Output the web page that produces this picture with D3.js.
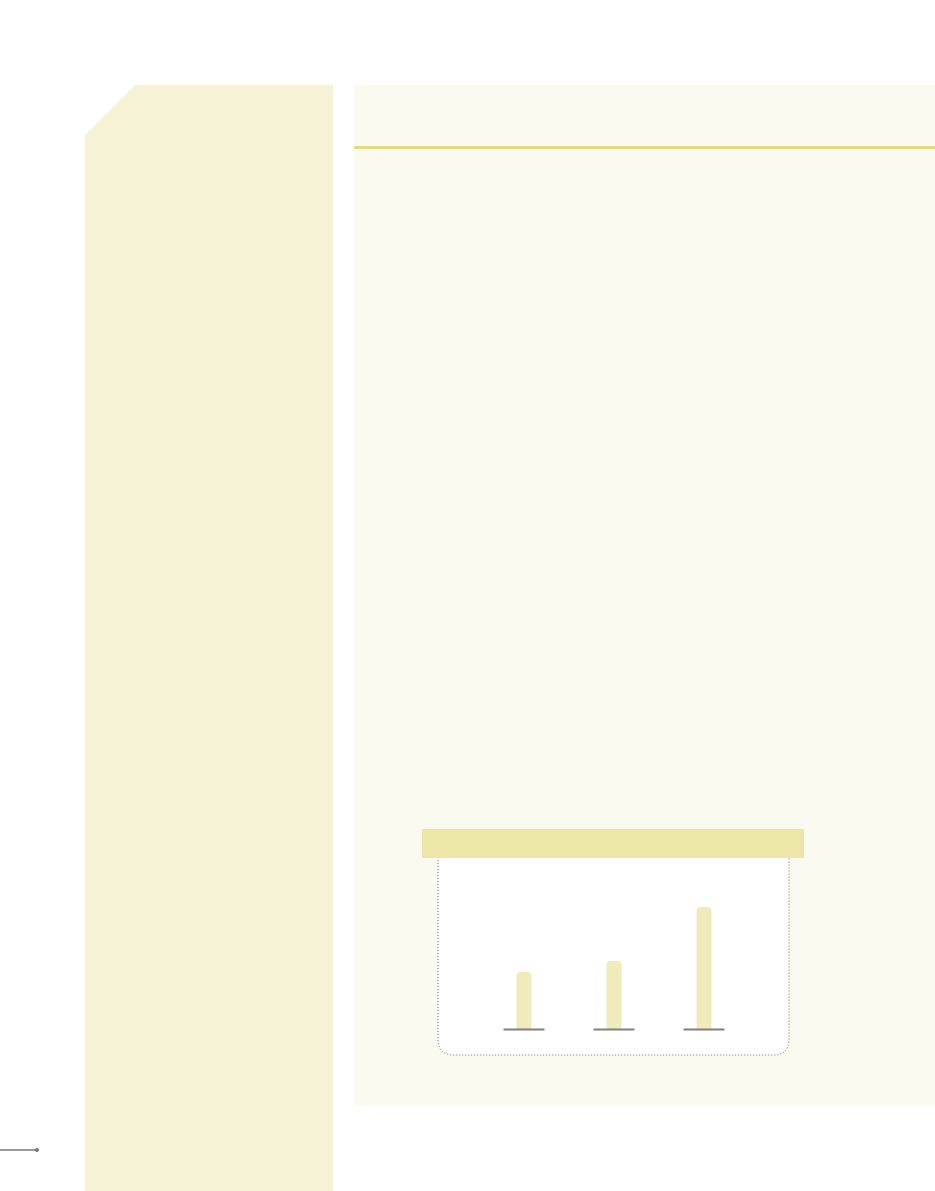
<!DOCTYPE html>
<html>
<head>
<meta charset="utf-8">
<style>
  body { margin: 0; background: #ffffff; }
  svg { display: block; }
</style>
</head>
<body>
<script src="https://d3js.org/d3.v7.min.js"></script>
<script>
  // chart data (no labels are printed in the original)
  var categories = ['A', 'B', 'C'];
  var values = [57, 68, 122];

  var width = 935, height = 1191;

  const svg = d3.select('body').append('svg')
    .attr('width', width)
    .attr('height', height);

  // left side panel with the cut corner
  svg.append('path')
    .attr('d', 'M135,85 L333,85 L333,1191 L85,1191 L85,135 Z')
    .attr('fill', '#f6f2d6');

  // main panel
  svg.append('rect')
    .attr('x', 354).attr('y', 85)
    .attr('width', width - 354).attr('height', 1105 - 85)
    .attr('fill', '#fafaf0');

  svg.append('rect')
    .attr('x', 354).attr('y', 146)
    .attr('width', width - 354).attr('height', 3)
    .attr('fill', '#e4db7c');

  // little pointer line bottom-left
  svg.append('line')
    .attr('x1', 0).attr('x2', 37)
    .attr('y1', 1150).attr('y2', 1150)
    .attr('stroke', '#777').attr('stroke-width', 1.5);
  svg.append('circle')
    .attr('cx', 37).attr('cy', 1150).attr('r', 2)
    .attr('fill', '#777');

  // chart box
  var box = { left: 438, right: 789, top: 857, bottom: 1055, r: 16 };
  svg.append('path')
    .attr('d', 'M' + box.left + ',' + box.top +
      ' L' + box.left + ',' + (box.bottom - box.r) +
      ' Q' + box.left + ',' + box.bottom + ' ' + (box.left + box.r) + ',' + box.bottom +
      ' L' + (box.right - box.r) + ',' + box.bottom +
      ' Q' + box.right + ',' + box.bottom + ' ' + box.right + ',' + (box.bottom - box.r) +
      ' L' + box.right + ',' + box.top)
    .attr('fill', '#ffffff')
    .attr('stroke', '#6f6f6f')
    .attr('stroke-width', 1)
    .attr('stroke-dasharray', '1,2');

  svg.append('rect')
    .attr('x', 422).attr('y', 829)
    .attr('width', 804 - 422).attr('height', 29)
    .attr('fill', '#ede6a6');

  var xScale = d3.scaleBand()
    .domain(categories)
    .range([479, 749]);

  var yScale = d3.scaleLinear()
    .domain([0, 150])
    .range([1029, 879]);

  var barW = 15, rr = 4;

  var g = svg.append('g');

  g.selectAll('path.bar')
    .data(values)
    .join('path')
      .attr('class', 'bar')
      .attr('fill', '#f0ebbb')
      .attr('d', function(d, i) {
        var cx = xScale(categories[i]) + xScale.bandwidth() / 2;
        var x0 = cx - barW / 2, x1 = cx + barW / 2;
        var y0 = yScale(0), y1 = yScale(d);
        return 'M' + x0 + ',' + y0 +
          ' L' + x0 + ',' + (y1 + rr) +
          ' Q' + x0 + ',' + y1 + ' ' + (x0 + rr) + ',' + y1 +
          ' L' + (x1 - rr) + ',' + y1 +
          ' Q' + x1 + ',' + y1 + ' ' + x1 + ',' + (y1 + rr) +
          ' L' + x1 + ',' + y0 + ' Z';
      });

  g.selectAll('line.base')
    .data(categories)
    .join('line')
      .attr('class', 'base')
      .attr('x1', d => xScale(d) + xScale.bandwidth() / 2 - 20.5)
      .attr('x2', d => xScale(d) + xScale.bandwidth() / 2 + 20.5)
      .attr('y1', yScale(0) + 0.5)
      .attr('y2', yScale(0) + 0.5)
      .attr('stroke', '#808080')
      .attr('stroke-width', 2);
</script>
</body>
</html>
